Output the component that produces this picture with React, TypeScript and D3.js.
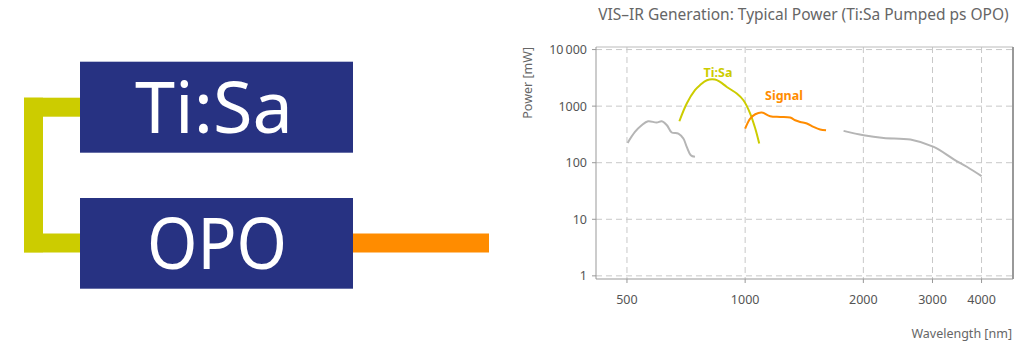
import React from "react";
import * as d3 from "d3";

const xTicks = [500, 1000, 2000, 3000, 4000];
const yTicks = [1, 10, 100, 1000, 10000];
const yTickLabels = ["1", "10", "100", "1000", "10\u2009000"];

const visWl = [502, 524, 545, 566, 595, 613, 632, 650, 676, 696, 710, 727, 745];
const visP = [224, 350, 460, 541, 513, 541, 460, 342, 328, 268, 190, 136, 127];

const tisaWl = [680, 710, 745, 767, 799, 838, 863, 898, 952, 990, 1030, 1061, 1086];
const tisaP = [541, 1112, 1910, 2340, 2870, 2950, 2680, 2183, 1670, 1271, 740, 402, 218];

const sigWl = [1000, 1030, 1061, 1103, 1158, 1228, 1302, 1341, 1381, 1436, 1493, 1552, 1607];
const sigP = [402, 604, 719, 771, 663, 645, 629, 564, 526, 493, 429, 386, 375];

const irWl = [1781, 2003, 2253, 2636, 3022, 3399, 3678, 4000];
const irP = [365, 306, 274, 257, 190, 115, 84, 58];

const W = 1024;
const H = 351;
const L = 596, R = 1013, T = 47, B = 279;

const FONT = "'Noto Sans', 'DejaVu Sans', sans-serif";
const YELLOW = "#cccc00";
const ORANGE = "#ff8c00";
const GRAY = "#b5b5b5";
const NAVY = "#273282";

export default function App() {
  const x = d3.scaleLog().domain([417, 4810]).range([L, R]);
  const y = d3.scaleLog().domain([0.88, 11100]).range([B, T]);
  const line = d3
    .line<[number, number]>()
    .x((d) => x(d[0]))
    .y((d) => y(d[1]))
    .curve(d3.curveCatmullRom.alpha(0.5));
  const mk = (wl: number[], p: number[]) => line(wl.map((w, i) => [w, p[i]] as [number, number])) || "";

  return (
    <svg width={W} height={H} style={{ position: "absolute", left: 0, top: 0 }} fontFamily={FONT}>
      <rect width={W} height={H} fill="#fff" />
      {/* Diagram */}
      <rect x={24} y={97.7} width={19} height={154.6} fill={YELLOW} />
      <rect x={24} y={97.7} width={60} height={19} fill={YELLOW} />
      <rect x={24} y={233.5} width={60} height={19} fill={YELLOW} />
      <rect x={350} y={233.5} width={139} height={19} fill={ORANGE} />
      <rect x={80} y={61.7} width={273} height={91} fill={NAVY} />
      <rect x={80} y={198} width={273} height={90.7} fill={NAVY} />
      <text x={214} y={133} textAnchor="middle" fill="#fff" fontSize={72}>Ti:Sa</text>
      <text x={217} y={269} textAnchor="middle" fill="#fff" fontSize={72} textLength={140} lengthAdjust="spacingAndGlyphs">OPO</text>

      {/* Chart */}
      <text x={803.5} y={20} textAnchor="middle" fill="#666" fontSize={15.5}>
        VIS–IR Generation: Typical Power (Ti:Sa Pumped ps OPO)
      </text>
      {xTicks.map((t) => (
        <g key={"x" + t}>
          <line x1={x(t)} x2={x(t)} y1={T} y2={B} stroke="#c8c8c8" strokeDasharray="6,4" />
          <line x1={x(t)} x2={x(t)} y1={B} y2={B + 4} stroke="#999" />
          <text x={x(t)} y={304} textAnchor="middle" fill="#555" fontSize={12.5}>{t}</text>
        </g>
      ))}
      {yTicks.map((t, i) => (
        <g key={"y" + t}>
          <line x1={L} x2={R} y1={y(t)} y2={y(t)} stroke="#c8c8c8" strokeDasharray="6,4" />
          <line x1={L - 4} x2={L} y1={y(t)} y2={y(t)} stroke="#999" />
          <text x={587} y={y(t) + 4.5} textAnchor="end" fill="#555" fontSize={12.5}>{yTickLabels[i]}</text>
        </g>
      ))}
      <line x1={L} x2={R} y1={T} y2={T} stroke="#bbb" />
      <line x1={R} x2={R} y1={T} y2={B} stroke="#999" strokeWidth={2} />
      <line x1={L} x2={L} y1={T} y2={B} stroke="#999" />
      <line x1={L} x2={R} y1={B} y2={B} stroke="#999" />

      <path d={mk(visWl, visP)} fill="none" stroke={GRAY} strokeWidth={2} />
      <path d={mk(irWl, irP)} fill="none" stroke={GRAY} strokeWidth={2} />
      <path d={mk(tisaWl, tisaP)} fill="none" stroke={YELLOW} strokeWidth={2} />
      <path d={mk(sigWl, sigP)} fill="none" stroke={ORANGE} strokeWidth={2} />

      <text x={718} y={76.5} textAnchor="middle" fill={YELLOW} fontSize={12.5} fontWeight="bold">Ti:Sa</text>
      <text x={765} y={99.5} fill={ORANGE} fontSize={12.5} fontWeight="bold">Signal</text>

      <text transform={`translate(532,47) rotate(-90)`} textAnchor="end" fill="#666" fontSize={12.5}>Power [mW]</text>
      <text x={1012} y={338} textAnchor="end" fill="#666" fontSize={12.5}>Wavelength [nm]</text>
    </svg>
  );
}
